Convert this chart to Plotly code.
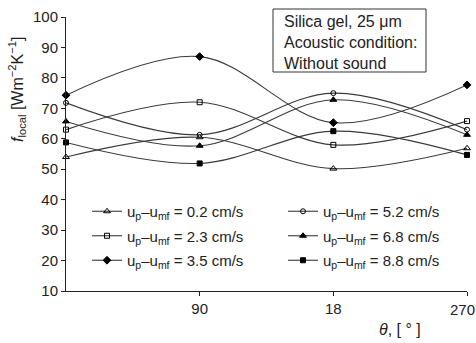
import plotly.graph_objects as go

theta = [0, 90, 180, 270]
tick_vals = [90, 180, 270]
tick_text = ["90", "18", ""]
last_tick_label = "270"
y_ticks = [10, 20, 30, 40, 50, 60, 70, 80, 90, 100]

labels = ["0.2", "2.3", "3.5", "5.2", "6.8", "8.8"]
v02 = [54.0, 60.5, 50.2, 56.9]
v23 = [63.0, 72.0, 58.0, 65.8]
v35 = [74.3, 87.0, 65.3, 77.7]
v52 = [71.8, 61.3, 75.0, 63.0]
v68 = [65.7, 57.7, 72.8, 61.3]
v88 = [58.8, 51.9, 62.5, 54.7]
series = [v02, v23, v35, v52, v68, v88]
symbols = ["triangle-up-open", "square-open", "diamond", "circle-open", "triangle-up", "square"]
sizes = [6, 5, 6, 5, 6, 5]
legends = ["legend", "legend", "legend", "legend2", "legend2", "legend2"]

FONT = "Liberation Sans, Arial, sans-serif"
W, H = 476, 343
ML, MR, MT, MB = 66, 9, 17, 52
PW, PH = W - ML - MR, H - MT - MB


def px2x(px):
    return (px - ML) / PW


def px2y(py):
    return (H - MB - py) / PH


fig = go.Figure()
for i, (lab, vals) in enumerate(zip(labels, series)):
    fig.add_trace(go.Scatter(
        x=theta, y=vals, mode="lines+markers",
        name=f"u<sub>p</sub>\u2013u<sub>mf</sub> = {lab} cm/s",
        line=dict(color="#3a3a3a", width=1.1, shape="spline", smoothing=1.0),
        marker=dict(symbol=symbols[i], size=sizes[i], color="black",
                    line=dict(color="black", width=1)),
        legend=legends[i], legendgroup=f"g{i}", cliponaxis=False,
    ))

fig.update_layout(
    width=W, height=H,
    margin=dict(l=ML, r=MR, t=MT, b=MB, autoexpand=False),
    paper_bgcolor="white", plot_bgcolor="white",
    font=dict(family=FONT, size=15, color="#222222"),
    xaxis=dict(range=[0, 270], tickvals=tick_vals, ticktext=tick_text,
               showgrid=False, zeroline=False, showline=True, linecolor="#222222",
               linewidth=1, ticks="outside", ticklen=4, tickcolor="#222222",
               tickfont=dict(size=15), automargin=False),
    yaxis=dict(range=[10, 100], tickvals=y_ticks, showgrid=False, zeroline=False,
               showline=True, linecolor="#222222", linewidth=1, ticks="outside",
               ticklen=4, tickcolor="#222222", tickfont=dict(size=15), automargin=False),
    legend=dict(x=px2x(87), y=px2y(195), xanchor="left", yanchor="top",
                bgcolor="rgba(0,0,0,0)", font=dict(size=15), tracegroupgap=2),
    legend2=dict(x=px2x(283), y=px2y(195), xanchor="left", yanchor="top",
                 bgcolor="rgba(0,0,0,0)", font=dict(size=15), tracegroupgap=2),
    showlegend=True,
)

fig.add_annotation(xref="paper", yref="paper", x=1.0 + 8.5 / PW, y=px2y(309),
                   xanchor="right", yanchor="middle", showarrow=False, borderpad=0,
                   text=last_tick_label, font=dict(size=15))
fig.add_shape(type="rect", xref="paper", yref="paper",
              x0=px2x(273), x1=px2x(426), y0=px2y(72), y1=px2y(9),
              line=dict(color="#333333", width=1), fillcolor="white")
fig.add_annotation(xref="paper", yref="paper", x=px2x(282), y=px2y(42),
                   xanchor="left", yanchor="middle", align="left", showarrow=False,
                   text="Silica gel, 25 \u03bcm<br>Acoustic condition:<br>Without sound",
                   font=dict(size=16))
fig.add_annotation(xref="paper", yref="paper", x=px2x(17), y=px2y(90),
                   xanchor="center", yanchor="middle", textangle=-90, showarrow=False,
                   text="<i>f</i><sub>local</sub> [Wm<sup>\u22122</sup>K<sup>\u22121</sup>]",
                   font=dict(size=16))
fig.add_annotation(xref="paper", yref="paper", x=px2x(400), y=px2y(329),
                   xanchor="center", yanchor="middle", showarrow=False,
                   text="<i>\u03b8</i>, [ \u00b0 ]", font=dict(size=16))

fig.write_html("out.html")
